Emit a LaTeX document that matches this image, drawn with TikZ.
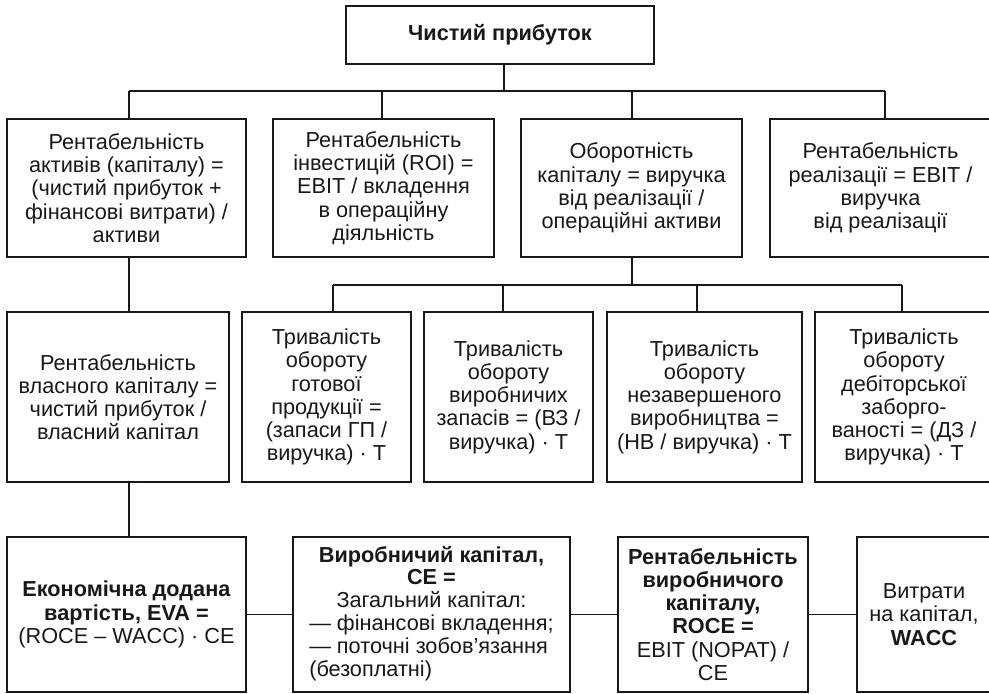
\documentclass[tikz,border=0pt]{standalone}
\usepackage{fontspec}
\setmainfont{Liberation Sans}
\definecolor{ink}{HTML}{1A1718}
\begin{document}
\begin{tikzpicture}[x=1pt,y=-1pt,
  box/.style={draw=ink, line width=2.5pt, rectangle, inner sep=0pt, align=center, text=ink,
    font=\fontsize{21.7pt}{23.2pt}\selectfont},
  conn/.style={draw=ink, line width=1.2pt}]
\clip (0,0) rectangle (989,694);
\fill[white] (0,0) rectangle (989,694);
% top
\node[box, minimum width=308pt, minimum height=58pt] (top) at (500,35) {\textbf{Чистий прибуток}};
% row 1
\node[box, minimum width=239pt, minimum height=138pt] (b1) at (126.5,188) {Рентабельність\\активів (капіталу) =\\(чистий прибуток +\\фінансові витрати) /\\активи};
\node[box, minimum width=221pt, minimum height=138pt] (b2) at (383.5,188) {Рентабельність\\інвестицій (ROI) =\\EBIT / вкладення\\в операційну\\діяльність};
\node[box, minimum width=221pt, minimum height=138pt] (b3) at (631.5,188) {Оборотність\\капіталу = виручка\\від реалізації /\\операційні активи};
\node[box, minimum width=221pt, minimum height=138pt] (b4) at (880.5,188) {Рентабельність\\реалізації = EBIT /\\виручка\\від реалізації};
% row 2
\node[box, minimum width=222pt, minimum height=170pt] (ra) at (118,397) {Рентабельність\\власного капіталу =\\чистий прибуток /\\власний капітал};
\node[box, minimum width=169pt, minimum height=170pt] (rb) at (326.5,397) {Тривалість\\обороту\\готової\\продукції =\\(запаси ГП /\\виручка) · Т};
\node[box, minimum width=169pt, minimum height=170pt] (rc) at (508.5,397) {Тривалість\\обороту\\виробничих\\запасів = (ВЗ /\\виручка) · Т};
\node[box, minimum width=195pt, minimum height=170pt] (rd) at (704.5,397) {Тривалість\\обороту\\незавершеного\\виробництва =\\(НВ / виручка) · Т};
\node[box, minimum width=178pt, minimum height=170pt] (re) at (904,397) {Тривалість\\обороту\\дебіторської\\заборго-\\ваності = (ДЗ /\\виручка) · Т};
% row 3
\node[box, minimum width=239pt, minimum height=155pt] (f) at (126.5,614.5) {\textbf{Економічна додана}\\\textbf{вартість, EVA =}\\(ROCE – WACC) · CE};
\node[box, minimum width=277pt, minimum height=155pt] (g) at (431.5,614.5) {\renewcommand\arraystretch{0.98}\setlength\tabcolsep{0pt}\begin{tabular}{l}
\multicolumn{1}{c}{\textbf{Виробничий капітал,}}\\
\multicolumn{1}{c}{\textbf{CE =}}\\
\multicolumn{1}{c}{Загальний капітал:}\\
— фінансові вкладення;\\
— поточні зобов’язання\\
(безоплатні)
\end{tabular}};
\node[box, minimum width=190pt, minimum height=155pt] (h) at (713,614.5) {\textbf{Рентабельність}\\\textbf{виробничого}\\\textbf{капіталу,}\\\textbf{ROCE =}\\EBIT (NOPAT) /\\CE};
\node[box, minimum width=134pt, minimum height=155pt] (i) at (924,614.5) {Витрати\\на капітал,\\\textbf{WACC}};
% connectors
\coordinate (j0) at (504,91);
\coordinate (j1) at (129,91);
\coordinate (j4) at (885,91);
\draw[conn] (top.south -| j0) -- (j0);
\draw[conn] (j1) -- (j4);
\draw[conn] (j1) -- (b1.north -| j1);
\draw[conn] (382,91) -- (b2.north -| 382,0);
\draw[conn] (632,91) -- (b3.north -| 632,0);
\draw[conn] (j4) -- (b4.north -| j4);
\coordinate (k0) at (632,285);
\coordinate (k1) at (333,285);
\coordinate (k4) at (902,285);
\draw[conn] (b3.south -| k0) -- (k0);
\draw[conn] (k1) -- (k4);
\draw[conn] (k1) -- (rb.north -| k1);
\draw[conn] (503,285) -- (rc.north -| 503,0);
\draw[conn] (697,285) -- (rd.north -| 697,0);
\draw[conn] (k4) -- (re.north -| k4);
\draw[conn] (b1.south -| j1) -- (ra.north -| j1);
\draw[conn] (ra.south -| j1) -- (f.north -| j1);
\draw[conn] (f.east) -- (g.west);
\draw[conn] (g.east) -- (h.west);
\draw[conn] (h.east) -- (i.west);
\end{tikzpicture}
\end{document}
